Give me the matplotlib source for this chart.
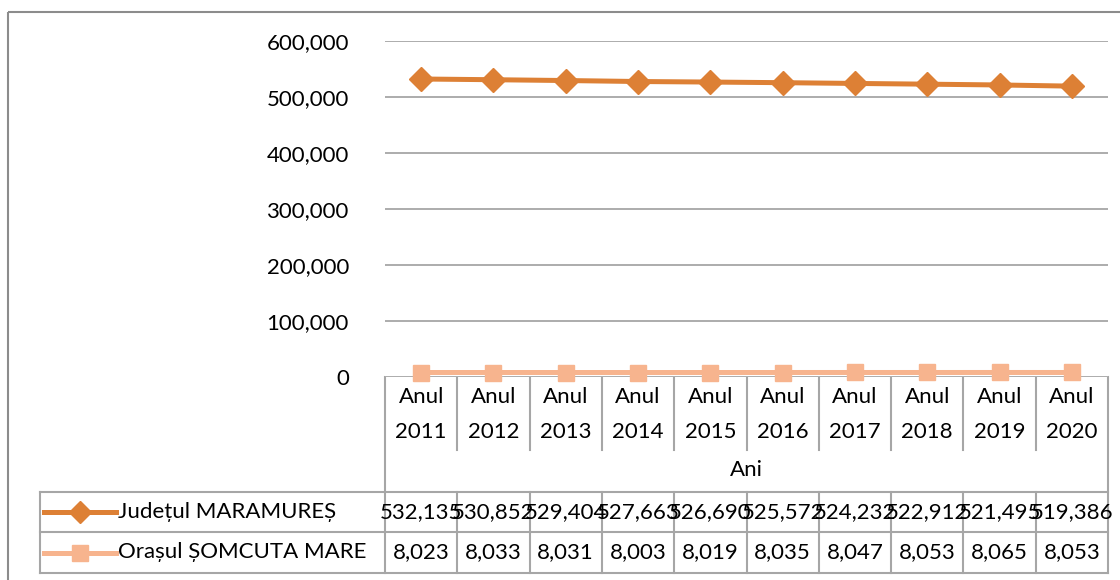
import matplotlib.pyplot as plt
from matplotlib.lines import Line2D
from matplotlib.patches import Rectangle
from matplotlib.transforms import blended_transform_factory

plt.rcParams['font.family'] = ['Lato', 'DejaVu Sans']

years = ['2011', '2012', '2013', '2014', '2015', '2016', '2017', '2018', '2019', '2020']
cat_prefix = 'Anul'
x_title = 'Ani'
series_names = ['Județul MARAMUREȘ', 'Orașul ȘOMCUTA MARE']
judet = [532135, 530852, 529404, 527663, 526690, 525572, 524232, 522912, 521495, 519386]
oras = [8023, 8033, 8031, 8003, 8019, 8035, 8047, 8053, 8065, 8053]
yticks = [0, 100000, 200000, 300000, 400000, 500000, 600000]

C1 = '#DD8035'
C2 = '#F7B48E'
GRID = '#A6A6A6'
FS = 16

W, H = 1120, 580
fig = plt.figure(figsize=(W / 100, H / 100), dpi=100)

# overlay in pixel coordinates (origin top-left) for table and frame
ov = fig.add_axes([0, 0, 1, 1])
ov.set_xlim(0, W)
ov.set_ylim(H, 0)
ov.axis('off')

# plot area
L, R, T, B = 385, 1108, 41, 377
ax = fig.add_axes([L / W, 1 - B / H, (R - L) / W, (B - T) / H])
x = list(range(len(years)))
ax.plot(x, judet, color=C1, lw=3.6, marker='D', ms=12, clip_on=False, zorder=4)
ax.plot(x, oras, color=C2, lw=3.6, marker='s', ms=12, clip_on=False, zorder=4)
ax.set_xlim(-0.5, len(years) - 0.5)
ax.set_ylim(0, 600000)
ax.set_yticks(yticks)
ax.set_yticklabels([f'{v:,}' for v in yticks], fontsize=FS)
ax.set_xticks([])
ax.tick_params(axis='y', length=0, pad=26)
ax.grid(axis='y', color=GRID, lw=1.3)
ax.set_axisbelow(True)
for s in ax.spines.values():
    s.set_visible(False)

tr = blended_transform_factory(ax.transData, ov.transData)

# outer chart frame
ov.add_patch(Rectangle((8, 12), W + 20, H + 20, fill=False, ec='#8C8C8C', lw=1.5))

# category axis area
row_top, row_mid, row_bot = 492, 532, 573
tbl_left = 40
ov.add_line(Line2D([L, L], [B, row_bot], color=GRID, lw=1.5))
ov.add_line(Line2D([R, R], [B, row_bot], color=GRID, lw=1.5))
for i in range(1, len(years)):
    ov.add_line(Line2D([i - 0.5, i - 0.5], [B, 450], color=GRID, lw=1.5, transform=tr))
    ov.add_line(Line2D([i - 0.5, i - 0.5], [row_top, row_bot], color=GRID, lw=1.5, transform=tr))
for i, yr in enumerate(years):
    ov.text(i, 397, cat_prefix, ha='center', va='center', fontsize=FS, transform=tr)
    ov.text(i, 432, yr, ha='center', va='center', fontsize=FS, transform=tr)
ov.text((len(years) - 1) / 2, 470, x_title, ha='center', va='center', fontsize=FS, transform=tr)

# data table
for yy in [row_top, row_mid, row_bot]:
    ov.add_line(Line2D([tbl_left, R], [yy, yy], color=GRID, lw=1.5))
ov.add_line(Line2D([tbl_left, tbl_left], [row_top, row_bot], color=GRID, lw=1.5))

rows = [(series_names[0], judet, C1, 'D'), (series_names[1], oras, C2, 's')]
for (name, vals, c, m), yc in zip(rows, [(row_top + row_mid) / 2, (row_mid + row_bot) / 2]):
    ov.plot([44, 80, 116], [yc, yc, yc], color=c, lw=3.6, marker=m, ms=12 if m == 's' else 11,
            markevery=[1])
    ov.text(118, yc, name, ha='left', va='center', fontsize=FS)
    for i, v in enumerate(vals):
        ov.text(i, yc, f'{v:,}', ha='center', va='center', fontsize=FS, transform=tr)

fig.savefig('out.png', dpi=100)
